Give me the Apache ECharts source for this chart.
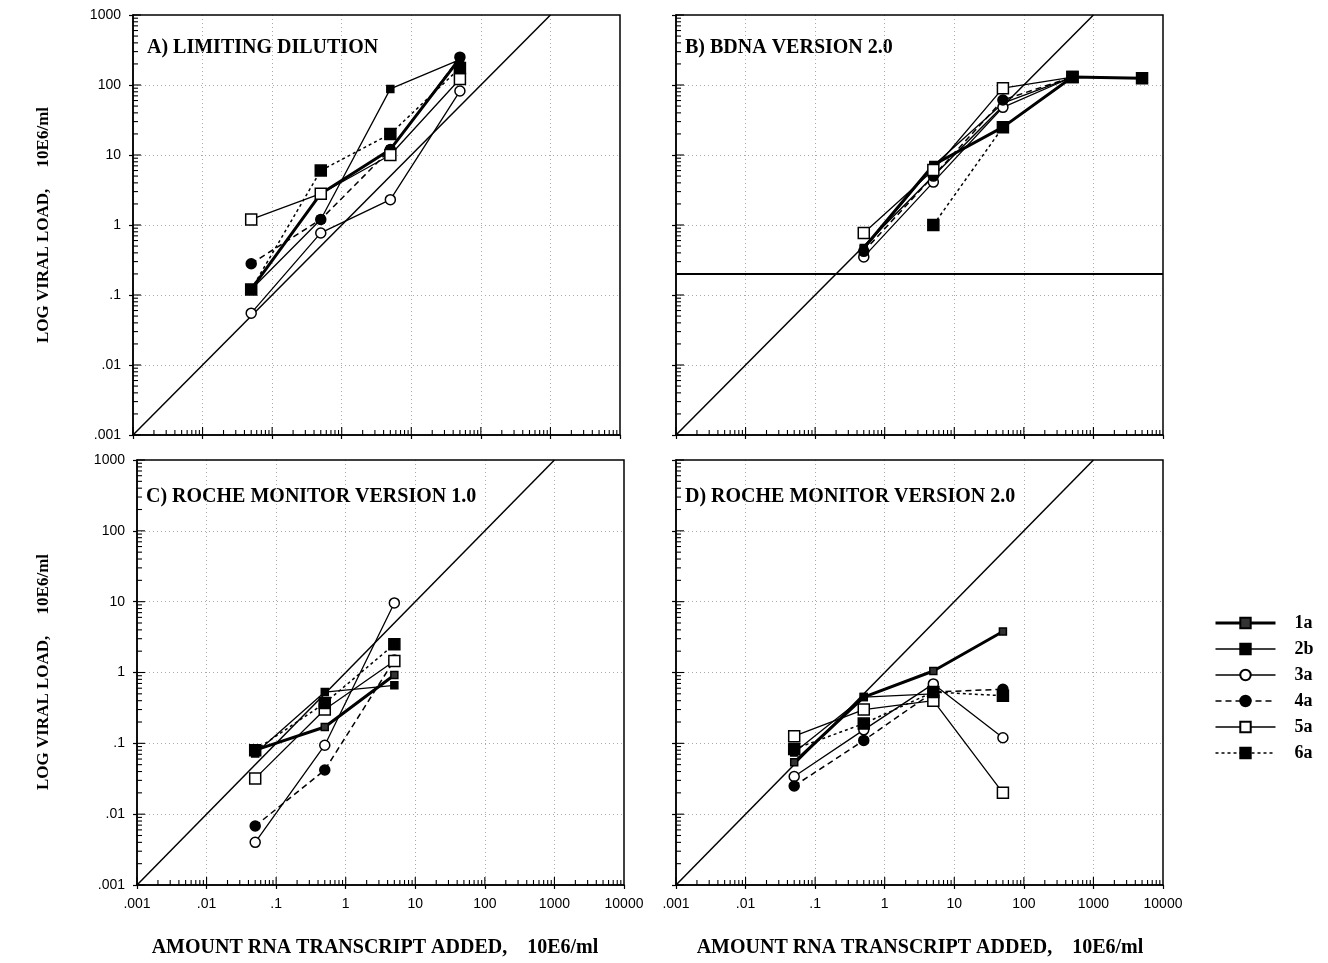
<!DOCTYPE html>
<html><head><meta charset="utf-8">
<script src="https://cdn.jsdelivr.net/npm/echarts@6/dist/echarts.min.js"></script>
<style>html,body{margin:0;padding:0;background:#fff}#c{width:1328px;height:963px}</style>
</head><body><div id="c"></div>
<script>
// ---- labels ----
const seriesNames = ['1a', '2b', '3a', '4a', '5a', '6a'];
const xTickLabels = ['.001', '.01', '.1', '1', '10', '100', '1000', '10000'];
const yTickLabels = ['.001', '.01', '.1', '1', '10', '100', '1000'];
const panelTitles = ['A) LIMITING DILUTION', 'B) BDNA VERSION 2.0', 'C) ROCHE MONITOR VERSION 1.0', 'D) ROCHE MONITOR VERSION 2.0'];
const yTitle = 'LOG VIRAL LOAD,     10E6/ml';
const xTitle = 'AMOUNT RNA TRANSCRIPT ADDED,    10E6/ml';

// ---- data: Panel A (limiting dilution) ----
const xA = [0.05, 0.5, 5, 50];
const A_1a = [0.12, 2.8, 12, 240];
const A_2b = [0.12, 1.2, 88, 230];
const A_3a = [0.055, 0.77, 2.3, 82];
const A_4a = [0.28, 1.2, 12, 250];
const A_5a = [1.2, 2.8, 10, 122];
const A_6a = [0.12, 6.0, 20, 175];

// ---- Panel B (bDNA 2.0) ----
const xB = [0.5, 5, 50, 500, 5000];
const B_1a = [0.47, 7.2, 25, 130, 125];
const B_2b = [0.45, 7.0, 55, 130, null];
const B_3a = [0.35, 4.1, 48, 130, null];
const B_4a = [0.42, 5.0, 61, 130, null];
const B_5a = [0.77, 6.1, 90, 130, null];
const B_6a = [null, 1.0, 25, 130, 125];
const bdnaCutoff = 0.2;

// ---- Panel C (Roche Monitor 1.0) ----
const xC = [0.05, 0.5, 5];
const C_1a = [0.08, 0.17, 0.92];
const C_2b = [0.072, 0.53, 0.66];
const C_3a = [0.004, 0.094, 9.6];
const C_4a = [0.0068, 0.042, 1.5];
const C_5a = [0.032, 0.30, 1.45];
const C_6a = [0.08, 0.37, 2.5];

// ---- Panel D (Roche Monitor 2.0) ----
const xD = [0.05, 0.5, 5, 50];
const D_1a = [0.054, 0.45, 1.05, 3.8];
const D_2b = [0.074, 0.45, 0.5, null];
const D_3a = [0.034, 0.155, 0.69, 0.12];
const D_4a = [0.025, 0.11, 0.53, 0.58];
const D_5a = [0.126, 0.30, 0.40, 0.020];
const D_6a = [0.083, 0.19, 0.53, 0.47];

const panels = [
  {x: xA, s: [A_1a, A_2b, A_3a, A_4a, A_5a, A_6a]},
  {x: xB, s: [B_1a, B_2b, B_3a, B_4a, B_5a, B_6a]},
  {x: xC, s: [C_1a, C_2b, C_3a, C_4a, C_5a, C_6a]},
  {x: xD, s: [D_1a, D_2b, D_3a, D_4a, D_5a, D_6a]}
];

// ---- styles ----
const serif = 'Liberation Serif';
const styleOf = {
  '1a': {symbol: 'rect', size: 7, fill: '#333', width: 3, type: 'solid'},
  '2b': {symbol: 'rect', size: 7, fill: '#000', width: 1.3, type: 'solid'},
  '3a': {symbol: 'circle', size: 10, fill: '#fff', width: 1.3, type: 'solid'},
  '4a': {symbol: 'circle', size: 10, fill: '#000', width: 1.5, type: [6, 4]},
  '5a': {symbol: 'rect', size: 11, fill: '#fff', width: 1.3, type: 'solid'},
  '6a': {symbol: 'rect', size: 11, fill: '#000', width: 1.5, type: [3, 3]}
};

const grids = [
  {left: 133, top: 15, width: 487, height: 420},
  {left: 676, top: 15, width: 487, height: 420},
  {left: 137, top: 460, width: 487, height: 425},
  {left: 676, top: 460, width: 487, height: 425}
];

function logIdx(v) { return Math.round(Math.log10(v)); }

const xAxes = [], yAxes = [], series = [];
const gridLine = {show: true, showMinLine: false, showMaxLine: false, lineStyle: {color: '#aaa', width: 1, type: [1, 3]}};
const minorMult = [2, 3, 4, 5, 6, 7, 8, 9];
const xDecades = [0.001, 0.01, 0.1, 1, 10, 100, 1000];
const yDecades = [0.001, 0.01, 0.1, 1, 10, 100];

grids.forEach((g, i) => {
  const bottomRow = i >= 2, leftCol = i % 2 === 0;
  xAxes.push({
    type: 'log', logBase: 10, gridIndex: i, min: 0.001, max: 10000, splitNumber: 7,
    axisLine: {lineStyle: {color: '#000', width: 1.5}},
    axisTick: {show: true, inside: false, length: 4, lineStyle: {color: '#000', width: 1.2}},
    splitLine: gridLine,
    axisLabel: {show: bottomRow, margin: 12, color: '#000', fontFamily: 'Liberation Sans', fontSize: 14,
      formatter: v => xTickLabels[logIdx(v) + 3]}
  });
  yAxes.push({
    type: 'log', logBase: 10, gridIndex: i, min: 0.001, max: 1000, splitNumber: 6,
    axisLine: {lineStyle: {color: '#000', width: 1.5}},
    axisTick: {show: true, inside: false, length: 4, lineStyle: {color: '#000', width: 1.2}},
    splitLine: gridLine,
    axisLabel: {show: leftCol, margin: 12, color: '#000', fontFamily: 'Liberation Sans', fontSize: 14,
      formatter: v => yTickLabels[logIdx(v) + 3]}
  });
  // identity diagonal
  series.push({
    type: 'line', xAxisIndex: i, yAxisIndex: i, silent: true, symbol: 'none',
    data: [[0.001, 0.001], [1000, 1000]],
    lineStyle: {color: '#000', width: 1.5}, z: 1
  });
  // minor/major inward ticks on left and bottom axes
  const tickData = [];
  yDecades.forEach(d => {
    tickData.push([0.001, d, 'y', 8]);
    minorMult.forEach(m => tickData.push([0.001, d * m, 'y', 5]));
  });
  tickData.push([0.001, 1000, 'y', 8]);
  xDecades.forEach(d => {
    tickData.push([d, 0.001, 'x', 8]);
    minorMult.forEach(m => tickData.push([d * m, 0.001, 'x', 5]));
  });
  series.push({
    type: 'custom', xAxisIndex: i, yAxisIndex: i, silent: true, clip: false, z: 3,
    data: tickData,
    renderItem: (params, api) => {
      const p = api.coord([api.value(0), api.value(1)]);
      const len = api.value(3);
      const isY = tickData[params.dataIndex][2] === 'y';
      return {
        type: 'line',
        shape: isY ? {x1: p[0], y1: p[1], x2: p[0] + len, y2: p[1]} : {x1: p[0], y1: p[1], x2: p[0], y2: p[1] - len},
        style: {stroke: '#000', lineWidth: 1.1}
      };
    }
  });
  // data series
  const pnl = panels[i];
  seriesNames.forEach((name, k) => {
    const st = styleOf[name];
    const data = [];
    pnl.x.forEach((xv, j) => { const yv = pnl.s[k][j]; if (yv != null) data.push([xv, yv]); });
    series.push({
      name: name, type: 'line', xAxisIndex: i, yAxisIndex: i,
      data: data, symbol: st.symbol, symbolSize: st.size, showSymbol: true,
      itemStyle: {color: st.fill, borderColor: '#000', borderWidth: 1.5},
      lineStyle: {color: '#000', width: st.width, type: st.type},
      z: 5, animation: false
    });
  });
});

// bDNA detection limit line (panel B)
series.push({
  type: 'line', xAxisIndex: 1, yAxisIndex: 1, silent: true, symbol: 'none',
  data: [[0.001, bdnaCutoff], [10000, bdnaCutoff]],
  lineStyle: {color: '#000', width: 2}, z: 2
});

const titlePos = [[147, 48], [685, 48], [146, 497], [685, 497]];
const graphic = [];
panelTitles.forEach((t, i) => graphic.push({
  type: 'text', x: titlePos[i][0], y: titlePos[i][1],
  style: {text: t, font: 'bold 20px "' + serif + '"', fill: '#000', textVerticalAlign: 'middle'}
}));
[225, 672].forEach(cy => graphic.push({
  type: 'text', x: 44, y: cy, rotation: Math.PI / 2,
  style: {text: yTitle, font: 'bold 17px "' + serif + '"', fill: '#000', textAlign: 'center', textVerticalAlign: 'middle'}
}));
[375, 920].forEach(cx => graphic.push({
  type: 'text', x: cx, y: 948,
  style: {text: xTitle, font: 'bold 20px "' + serif + '"', fill: '#000', textAlign: 'center', textVerticalAlign: 'middle'}
}));

const chart = echarts.init(document.getElementById('c'), null, {renderer: 'canvas'});
chart.setOption({
  animation: false,
  backgroundColor: '#fff',
  grid: grids.map(g => Object.assign({show: true, borderColor: '#000', borderWidth: 1.5, backgroundColor: 'transparent', z: 2}, g)),
  xAxis: xAxes,
  yAxis: yAxes,
  legend: {
    orient: 'vertical', left: 1209, top: 608, itemWidth: 60, itemHeight: 13, itemGap: 6,
    data: seriesNames.map(n => ({name: n, lineStyle: {width: styleOf[n].width, type: styleOf[n].type, color: '#000'}})),
    selectedMode: false,
    textStyle: {fontFamily: serif, fontWeight: 'bold', fontSize: 18, lineHeight: 20, color: '#000', padding: [0, 0, 0, 14]}
  },
  graphic: graphic,
  series: series
});
</script></body></html>
